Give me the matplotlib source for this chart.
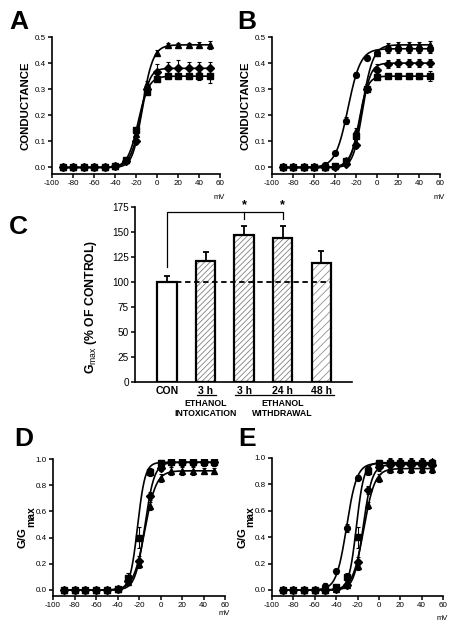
import numpy as np
import matplotlib
matplotlib.use("Agg")
import matplotlib.pyplot as plt

plt.rcParams['font.family'] = ['Liberation Sans', 'DejaVu Sans']
plt.rcParams['mathtext.fontset'] = 'custom'
plt.rcParams['mathtext.rm'] = 'Liberation Sans'
plt.rcParams['mathtext.bf'] = 'Liberation Sans:bold'
plt.rcParams['hatch.linewidth'] = 0.6
plt.rcParams['axes.unicode_minus'] = False

# ---------------- data ----------------
volts = [-90, -80, -70, -60, -50, -40, -30, -20, -10, 0, 10, 20, 30, 40, 50]

# Panel A (conductance)
A_tri = [0, 0, 0, 0, 0, 0.005, 0.03, 0.13, 0.32, 0.44, 0.47, 0.47, 0.47, 0.47, 0.47]
A_tri_err = [0.003, 0.003, 0.003, 0.003, 0.003, 0.003, 0.005, 0.01, 0.01, 0.01, 0.008, 0.008, 0.008, 0.01, 0.015]
A_dia = [0, 0, 0, 0, 0, 0.005, 0.025, 0.10, 0.30, 0.365, 0.38, 0.38, 0.38, 0.38, 0.38]
A_dia_err = [0.003, 0.003, 0.003, 0.003, 0.003, 0.003, 0.005, 0.01, 0.015, 0.03, 0.025, 0.03, 0.025, 0.025, 0.025]
A_sq = [0, 0, 0, 0, 0, 0.005, 0.03, 0.145, 0.29, 0.34, 0.35, 0.35, 0.35, 0.35, 0.35]
A_sq_err = [0.003, 0.003, 0.003, 0.003, 0.003, 0.003, 0.005, 0.01, 0.01, 0.008, 0.008, 0.008, 0.01, 0.015, 0.025]
# Boltzmann fit parameters (Gmax, V1/2, slope)
A_fits = {'tri': (0.47, -14.0, 5.2), 'dia': (0.38, -15.5, 4.2), 'sq': (0.35, -17.9, 5.0)}

# Panel B (conductance)
B_cir = [0, 0, 0, 0, 0.01, 0.055, 0.18, 0.355, 0.42, 0.44, 0.455, 0.455, 0.455, 0.455, 0.455]
B_cir_err = [0.003, 0.003, 0.003, 0.003, 0.004, 0.005, 0.012, 0.01, 0.01, 0.01, 0.015, 0.015, 0.015, 0.015, 0.015]
B_tri = [0, 0, 0, 0, 0, 0.005, 0.03, 0.14, 0.31, 0.44, 0.465, 0.47, 0.47, 0.47, 0.47]
B_tri_err = [0.003, 0.003, 0.003, 0.003, 0.003, 0.003, 0.005, 0.01, 0.01, 0.01, 0.012, 0.012, 0.012, 0.012, 0.015]
B_dia = [0, 0, 0, 0, 0, 0.003, 0.015, 0.085, 0.30, 0.375, 0.395, 0.40, 0.40, 0.40, 0.40]
B_dia_err = [0.003, 0.003, 0.003, 0.003, 0.003, 0.003, 0.005, 0.01, 0.012, 0.02, 0.015, 0.015, 0.015, 0.015, 0.015]
B_sq = [0, 0, 0, 0, 0, 0.005, 0.025, 0.12, 0.30, 0.345, 0.35, 0.35, 0.35, 0.35, 0.35]
B_sq_err = [0.003, 0.003, 0.003, 0.003, 0.003, 0.003, 0.005, 0.01, 0.01, 0.008, 0.008, 0.008, 0.01, 0.01, 0.02]
B_fits = {'cir': (0.455, -27.6, 6.0), 'tri': (0.47, -14.0, 5.2), 'dia': (0.40, -14.6, 4.15), 'sq': (0.35, -17.3, 4.1)}

# Panel C (Gmax % of control)
C_labels = ['CON', '3 h', '3 h', '24 h', '48 h']
C_values = [100, 121, 147, 144, 119]
C_errors = [6, 9, 9, 12, 12]

# Panel D (normalized)
D_sq = [0, 0, 0, 0, 0, 0.01, 0.09, 0.40, 0.90, 0.97, 0.975, 0.975, 0.975, 0.975, 0.975]
D_sq_err = [0.01, 0.01, 0.01, 0.01, 0.01, 0.01, 0.04, 0.08, 0.03, 0.02, 0.02, 0.02, 0.02, 0.03, 0.03]
D_dia = [0, 0, 0, 0, 0, 0.01, 0.07, 0.22, 0.72, 0.93, 0.975, 0.975, 0.975, 0.975, 0.975]
D_dia_err = [0.01, 0.01, 0.01, 0.01, 0.01, 0.01, 0.02, 0.04, 0.03, 0.02, 0.02, 0.03, 0.03, 0.03, 0.03]
D_tri = [0, 0, 0, 0, 0, 0.01, 0.06, 0.20, 0.64, 0.855, 0.91, 0.91, 0.91, 0.91, 0.91]
D_tri_err = [0.01, 0.01, 0.01, 0.01, 0.01, 0.01, 0.02, 0.03, 0.03, 0.03, 0.03, 0.03, 0.03, 0.02, 0.02]
D_fits = {'sq': (0.975, -21.3, 3.5), 'dia': (0.975, -14.6, 4.4), 'tri': (0.91, -14.6, 5.3)}

# Panel E (normalized)
E_cir = [0, 0, 0, 0, 0.03, 0.14, 0.47, 0.85, 0.92, 0.95, 0.96, 0.96, 0.96, 0.96, 0.96]
E_cir_err = [0.02, 0.01, 0.01, 0.01, 0.02, 0.02, 0.03, 0.02, 0.02, 0.03, 0.04, 0.04, 0.04, 0.04, 0.05]
E_sq = [0, 0, 0, 0, 0, 0.02, 0.10, 0.40, 0.90, 0.965, 0.965, 0.965, 0.965, 0.965, 0.965]
E_sq_err = [0.01, 0.01, 0.01, 0.01, 0.01, 0.01, 0.03, 0.08, 0.03, 0.02, 0.03, 0.03, 0.03, 0.03, 0.03]
E_dia = [0, 0, 0, 0, 0, 0.01, 0.04, 0.21, 0.76, 0.93, 0.95, 0.95, 0.95, 0.95, 0.95]
E_dia_err = [0.01, 0.01, 0.01, 0.01, 0.01, 0.01, 0.02, 0.04, 0.03, 0.03, 0.03, 0.03, 0.03, 0.03, 0.03]
E_tri = [0, 0, 0, 0, 0, 0.01, 0.04, 0.18, 0.64, 0.85, 0.92, 0.92, 0.92, 0.92, 0.92]
E_tri_err = [0.01, 0.01, 0.01, 0.01, 0.01, 0.01, 0.02, 0.03, 0.03, 0.03, 0.03, 0.03, 0.03, 0.03, 0.03]
E_fits = {'cir': (0.96, -30.2, 4.8), 'sq': (0.965, -21.0, 3.5), 'dia': (0.95, -14.8, 4.2), 'tri': (0.92, -14.2, 5.2)}

markers = {'tri': '^', 'dia': 'D', 'sq': 's', 'cir': 'o'}
msizes = {'tri': 4.4, 'dia': 3.6, 'sq': 3.8, 'cir': 4.2}

# ---------------- figure ----------------
W, H = 458, 630
fig = plt.figure(figsize=(W / 100, H / 100), dpi=100)


def px_axes(left, top, right, bottom):
    return fig.add_axes([left / W, 1 - bottom / H, (right - left) / W, (bottom - top) / H])


def style_axes(ax, labelsize=5.8):
    for s in ['top', 'right']:
        ax.spines[s].set_visible(False)
    for s in ['left', 'bottom']:
        ax.spines[s].set_linewidth(1.2)
    ax.tick_params(direction='out', length=3, width=1.1, labelsize=labelsize, pad=1.5)


def boltz(v, gmax, vh, k):
    return gmax / (1 + np.exp((vh - v) / k))


def iv_panel(ax, series, fits, ylim, yticks, fmt, mv_y):
    vfine = np.linspace(-90, 50, 400)
    for key, (vals, errs) in series.items():
        g, vh, k = fits[key]
        ax.plot(vfine, boltz(vfine, g, vh, k), color='black', lw=1.2, zorder=2)
        ax.errorbar(volts, vals, yerr=errs, fmt=markers[key], ms=msizes[key], color='black',
                    ecolor='black', elinewidth=0.8, capsize=1.3, capthick=0.8, lw=0, zorder=3)
    ax.set_xlim(-100, 60)
    ax.set_ylim(*ylim)
    ax.set_xticks(range(-100, 61, 20))
    ax.set_yticks(yticks)
    ax.set_yticklabels([fmt.format(t) for t in yticks])
    style_axes(ax)
    ax.text(1.03, mv_y, 'mV', transform=ax.transAxes, ha='right', va='center', fontsize=5.5)


# Panel A
axA = px_axes(52, 37, 220, 174)
iv_panel(axA, {'sq': (A_sq, A_sq_err), 'dia': (A_dia, A_dia_err), 'tri': (A_tri, A_tri_err)},
         A_fits, (-0.025, 0.5), [0, 0.1, 0.2, 0.3, 0.4, 0.5], '{:.1f}', -0.17)
axA.set_ylabel('CONDUCTANCE', fontsize=8.2, fontweight='bold', labelpad=3)

# Panel B
axB = px_axes(272, 37, 440, 174)
iv_panel(axB, {'sq': (B_sq, B_sq_err), 'dia': (B_dia, B_dia_err), 'tri': (B_tri, B_tri_err),
               'cir': (B_cir, B_cir_err)},
         B_fits, (-0.025, 0.5), [0, 0.1, 0.2, 0.3, 0.4, 0.5], '{:.1f}', -0.17)
axB.set_ylabel('CONDUCTANCE', fontsize=8.2, fontweight='bold', labelpad=3)

# Panel D
axD = px_axes(53, 459, 225, 596)
iv_panel(axD, {'sq': (D_sq, D_sq_err), 'dia': (D_dia, D_dia_err), 'tri': (D_tri, D_tri_err)},
         D_fits, (-0.046, 1.0), [0, 0.2, 0.4, 0.6, 0.8, 1.0], '{:.1f}', -0.13)

# Panel E
axE = px_axes(272, 458, 443, 596)
iv_panel(axE, {'sq': (E_sq, E_sq_err), 'dia': (E_dia, E_dia_err), 'tri': (E_tri, E_tri_err),
               'cir': (E_cir, E_cir_err)},
         E_fits, (-0.046, 1.0), [0, 0.2, 0.4, 0.6, 0.8, 1.0], '{:.1f}', -0.16)

# G/Gmax labels with large subscript
for xg, xm in [(23, 31), (242, 250)]:
    fig.text(xg / W, 1 - 548 / H, 'G/G', rotation=90, ha='center', va='bottom',
             fontsize=8.2, fontweight='bold')
    fig.text(xm / W, 1 - 527 / H, 'max', rotation=90, ha='center', va='bottom',
             fontsize=7.5, fontweight='bold')

# Panel C
axC = px_axes(135, 207, 352, 382)
xpos = np.arange(len(C_values))
hatches = [None, '//////', '//////', '//////', '////']
hcolors = ['white', '#808080', '#808080', '#808080', '#909090']
for i, (v, e) in enumerate(zip(C_values, C_errors)):
    if hatches[i]:
        axC.bar(xpos[i], v, width=0.5, color='white', edgecolor=hcolors[i], hatch=hatches[i], lw=0, zorder=2)
    axC.bar(xpos[i], v, width=0.5, fill=False, edgecolor='black', lw=1.6, zorder=3)
    axC.errorbar(xpos[i], v, yerr=[[0], [e]], fmt='none', ecolor='black', elinewidth=1.3,
                 capsize=2.5, capthick=1.3, zorder=3)
axC.plot([0, 4.25], [100, 100], color='black', lw=1.3, ls=(0, (3, 2)), zorder=4)
# significance bracket
axC.plot([0, 0, 3, 3], [115, 170, 170, 163], color='black', lw=0.9, zorder=4)
axC.plot([2, 2], [170, 163], color='black', lw=0.9, zorder=4)
for xs in (2, 3):
    axC.text(xs, 171, '*', ha='center', va='bottom', fontsize=9, fontweight='bold')
axC.set_xlim(-0.83, 4.8)
axC.set_ylim(0, 175)
axC.set_yticks(range(0, 176, 25))
axC.set_xticks(xpos)
style_axes(axC, labelsize=7.2)
axC.set_xticklabels(C_labels, fontweight='bold', fontsize=7.6)
axC.tick_params(axis='x', length=0, pad=3)
axC.set_ylabel(r'G$_{\rm max}$ (% OF CONTROL)', fontsize=8.8, fontweight='bold')
axC.yaxis.set_label_coords(-0.165, 0.43)
tr = axC.get_xaxis_transform()
axC.plot([0.78, 1.27], [-0.074, -0.074], transform=tr, color='black', lw=0.9, clip_on=False)
axC.plot([1.77, 4.34], [-0.074, -0.074], transform=tr, color='black', lw=0.9, clip_on=False)
axC.text(1.0, -0.095, 'ETHANOL\nINTOXICATION', transform=tr, ha='center', va='top',
         fontsize=6.3, fontweight='bold', linespacing=1.25)
axC.text(3.0, -0.095, 'ETHANOL\nWITHDRAWAL', transform=tr, ha='center', va='top',
         fontsize=6.3, fontweight='bold', linespacing=1.25)

# Panel letters
for lbl, x, y in [('A', 9, 29), ('B', 237, 29), ('C', 9, 234), ('D', 14, 446), ('E', 238, 446)]:
    fig.text(x / W, 1 - y / H, lbl, fontsize=19, fontweight='bold', ha='left', va='baseline')

fig.savefig('out.png', dpi=100)
